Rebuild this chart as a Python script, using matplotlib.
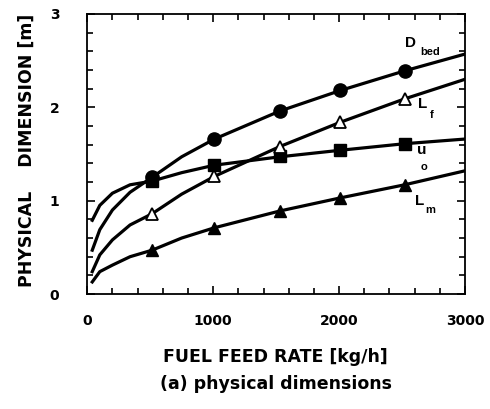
import matplotlib
matplotlib.use("Agg")
import matplotlib.pyplot as plt
from matplotlib.ticker import MultipleLocator

plt.rcParams['font.family'] = ['Liberation Sans', 'DejaVu Sans']
plt.rcParams['font.weight'] = 'bold'

# 曲线上读出的点
feed = [40, 100, 200, 340, 515, 750, 1010, 1530, 2010, 2520, 3000]
d_bed = [0.47, 0.69, 0.90, 1.09, 1.25, 1.47, 1.66, 1.96, 2.18, 2.39, 2.57]
u_o = [0.79, 0.95, 1.08, 1.17, 1.21, 1.30, 1.38, 1.47, 1.54, 1.61, 1.66]
l_f = [0.24, 0.42, 0.58, 0.74, 0.86, 1.07, 1.26, 1.58, 1.84, 2.09, 2.30]
l_m = [0.13, 0.24, 0.31, 0.40, 0.47, 0.60, 0.71, 0.89, 1.03, 1.17, 1.32]

# 标记点
mark_feed = [515, 1010, 1530, 2010, 2520]
mark_d_bed = [1.25, 1.66, 1.96, 2.18, 2.39]
mark_u_o = [1.21, 1.38, 1.48, 1.54, 1.61]
mark_l_f = [0.86, 1.26, 1.58, 1.84, 2.09]
mark_l_m = [0.47, 0.71, 0.89, 1.03, 1.17]

x_ticks = [0, 1000, 2000, 3000]
y_ticks = [0, 1, 2, 3]

fig = plt.figure(figsize=(4.9, 4.09), dpi=100)
ax = fig.add_axes([0.178, 0.281, 0.771, 0.685])

lw = 2.3
ax.plot(feed, d_bed, 'k-', lw=lw)
ax.plot(feed, u_o, 'k-', lw=lw)
ax.plot(feed, l_f, 'k-', lw=lw)
ax.plot(feed, l_m, 'k-', lw=lw)

ax.plot(mark_feed, mark_d_bed, 'ko', ms=9.5)
ax.plot(mark_feed, mark_u_o, 'ks', ms=9)
ax.plot(mark_feed, mark_l_f, '^', ms=8, mfc='white', mec='k', mew=1.3)
ax.plot(mark_feed, mark_l_m, 'k^', ms=8)

# 曲线标注
ax.text(2524, 2.65, 'D', fontsize=11)
ax.text(2643, 2.56, 'bed', fontsize=8)
ax.text(2627, 1.99, 'L', fontsize=11)
ax.text(2722, 1.89, 'f', fontsize=8)
ax.text(2619, 1.50, 'u', fontsize=11)
ax.text(2650, 1.33, 'o', fontsize=8)
ax.text(2603, 0.95, 'L', fontsize=11)
ax.text(2683, 0.87, 'm', fontsize=8)

ax.set_xlim(0, 3000)
ax.set_ylim(0, 3)
ax.set_xticks(x_ticks)
ax.set_yticks(y_ticks)
ax.set_xticklabels([str(v) for v in x_ticks], family='DejaVu Sans', fontweight='bold', fontsize=10)
ax.set_yticklabels([str(v) for v in y_ticks], family='DejaVu Sans', fontweight='bold', fontsize=10)
ax.xaxis.set_minor_locator(MultipleLocator(200))
ax.yaxis.set_minor_locator(MultipleLocator(0.2))
ax.tick_params(which='both', direction='in', top=True, right=True, width=1.2)
ax.tick_params(which='major', length=6)
ax.tick_params(which='minor', length=4)
ax.tick_params(axis='x', which='major', pad=14)
ax.tick_params(axis='y', which='major', pad=20)
for s in ax.spines.values():
    s.set_linewidth(1.3)

fig.text(0.055, 0.633, 'PHYSICAL    DIMENSION [m]', rotation=90, ha='center', va='center',
         family='DejaVu Sans', fontsize=12.5, fontweight='bold')
fig.text(0.563, 0.115, 'FUEL FEED RATE [kg/h]', ha='center', family='DejaVu Sans',
         fontsize=12.5, fontweight='bold')
fig.text(0.563, 0.050, '(a) physical dimensions', ha='center', family='DejaVu Sans',
         fontsize=12.5, fontweight='bold')

fig.savefig('out.png', dpi=100)
